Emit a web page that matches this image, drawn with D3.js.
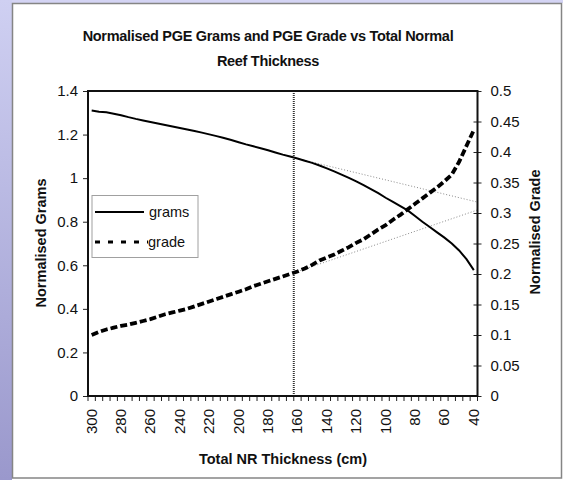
<!DOCTYPE html>
<html><head><meta charset="utf-8">
<script src="https://cdn.jsdelivr.net/npm/d3@7"></script>
<style>
html,body{margin:0;padding:0;background:#fff;}
svg{display:block;font-family:"Liberation Sans",Arial,sans-serif;}
</style></head>
<body>
<svg id="c" width="563" height="480"></svg>
<script>
// ---- data ----
const thickness = [300,295,290,285,280,275,270,265,260,255,250,245,240,235,230,225,220,215,210,205,200,195,190,185,180,175,170,165,160,155,150,145,140,135,130,125,120,115,110,105,100,95,90,85,80,75,70,65,60,55,50,45,40];
const grams = [1.310,1.305,1.302,1.296,1.289,1.280,1.272,1.265,1.258,1.251,1.244,1.237,1.230,1.223,1.216,1.209,1.201,1.193,1.184,1.175,1.165,1.155,1.146,1.137,1.128,1.118,1.108,1.099,1.090,1.080,1.070,1.058,1.045,1.031,1.016,1.001,0.985,0.968,0.950,0.931,0.910,0.891,0.872,0.852,0.826,0.800,0.776,0.751,0.727,0.700,0.668,0.628,0.578];
const grade = [0.100,0.105,0.109,0.112,0.115,0.117,0.120,0.123,0.126,0.130,0.134,0.137,0.140,0.143,0.147,0.151,0.155,0.159,0.163,0.167,0.171,0.175,0.180,0.184,0.188,0.192,0.196,0.200,0.204,0.209,0.215,0.222,0.227,0.232,0.238,0.244,0.251,0.257,0.265,0.273,0.280,0.289,0.297,0.306,0.315,0.324,0.333,0.342,0.352,0.363,0.384,0.410,0.436];
const xTickLabels = ["300","280","260","240","220","200","180","160","140","120","100","80","60","40"];
const leftTicks = [0,0.2,0.4,0.6,0.8,1,1.2,1.4];
const rightTicks = [0,0.05,0.1,0.15,0.2,0.25,0.3,0.35,0.4,0.45,0.5];
const markerAt = "160";           // vertical dotted marker
const gramsTrendEnd = 0.89;       // grams value where upper dotted line meets right axis
const gradeTrendEnd = 0.305;      // grade value where lower dotted line meets right axis
const titleLines = ["Normalised PGE Grams and PGE Grade vs Total Normal","Reef Thickness"];

// ---- layout ----
const svg = d3.select("#c");
const M = {l:88, r:477.5, t:91, b:396};
const FS = 15, TFS = 14.5;

// background pieces
const defs = svg.append("defs");
const lg = defs.append("linearGradient").attr("id","side").attr("x1",0).attr("y1",0).attr("x2",0).attr("y2",1);
lg.append("stop").attr("offset","0%").attr("stop-color","#cfd0f2");
lg.append("stop").attr("offset","100%").attr("stop-color","#9a98cc");
svg.append("rect").attr("x",0).attr("y",0).attr("width",563).attr("height",480).attr("fill","#fff");
svg.append("rect").attr("x",0).attr("y",0).attr("width",563).attr("height",3).attr("fill","#d4d4f4");
svg.append("rect").attr("x",0).attr("y",0).attr("width",12).attr("height",480).attr("fill","url(#side)");
svg.append("rect").attr("x",12.5).attr("y",3.5).attr("width",549).attr("height",474.5)
  .attr("fill","#fff").attr("stroke","#858585").attr("stroke-width",1.5);

const cats = thickness.map(String);
const x = d3.scaleBand().domain(cats).range([M.l, M.r]).padding(0);
const xc = d => x(d) + x.bandwidth()/2;
const yL = d3.scaleLinear().domain([0,1.4]).range([M.b, M.t]);
const yR = d3.scaleLinear().domain([0,0.5]).range([M.b, M.t]);

// title
svg.append("g").selectAll("text").data(titleLines).join("text")
  .attr("x",268).attr("y",(d,i)=>41+i*25).attr("text-anchor","middle")
  .attr("font-size",TFS).attr("font-weight","bold").attr("fill","#111")
  .attr("letter-spacing",-0.3).text(d=>d);

// plot area
svg.append("rect").attr("x",M.l).attr("y",M.t).attr("width",M.r-M.l).attr("height",M.b-M.t).attr("fill","#fff");

// left axis
const axL = d3.axisLeft(yL).tickValues(leftTicks).tickSize(5).tickPadding(5).tickFormat(d=>String(d));
const gL = svg.append("g").attr("transform",`translate(${M.l},0)`).call(axL);
// right axis (cross ticks)
const axR = d3.axisRight(yR).tickValues(rightTicks).tickSize(4).tickPadding(9).tickFormat(d=>String(d));
const gR = svg.append("g").attr("transform",`translate(${M.r},0)`).call(axR);
gR.selectAll(".tick line").attr("x1",-4);
// bottom axis: ticks at category boundaries
const bounds = cats.map(c=>x(c)).concat([M.r]);
const gB = svg.append("g");
gB.selectAll("line").data(bounds).join("line")
  .attr("x1",d=>d).attr("x2",d=>d).attr("y1",M.b).attr("y2",M.b+5).attr("stroke","#222").attr("stroke-width",1);
gB.selectAll("text").data(xTickLabels).join("text")
  .attr("transform",d=>`translate(${xc(d)+5},${M.b+13}) rotate(-90)`)
  .attr("text-anchor","end").attr("font-size",FS).attr("fill","#111").text(d=>d);

[gL,gR].forEach(g=>{
  g.select(".domain").remove();
  g.selectAll(".tick line").attr("stroke","#222");
  g.selectAll(".tick text").attr("font-size",FS).attr("fill","#111").attr("font-family","Liberation Sans, Arial, sans-serif");
});

// dotted marker line
svg.append("line").attr("x1",x(markerAt)).attr("x2",x(markerAt)).attr("y1",M.t).attr("y2",M.b)
  .attr("stroke","#333").attr("stroke-width",2).attr("stroke-dasharray","1,1");

// faint dotted guide lines
const i160 = cats.indexOf(markerAt);
svg.append("line").attr("x1",xc(markerAt)).attr("y1",yL(grams[i160])).attr("x2",M.r).attr("y2",yL(gramsTrendEnd))
  .attr("stroke","#8a8a8a").attr("stroke-width",1).attr("stroke-dasharray","1,2");
svg.append("line").attr("x1",xc(markerAt)).attr("y1",yR(grade[i160])).attr("x2",M.r).attr("y2",yR(gradeTrendEnd))
  .attr("stroke","#8a8a8a").attr("stroke-width",1).attr("stroke-dasharray","1,2");

// series
const lineG = d3.line().x((d,i)=>xc(cats[i])).y(d=>yL(d));
const lineR = d3.line().x((d,i)=>xc(cats[i])).y(d=>yR(d));
svg.append("path").datum(grade).attr("d",lineR).attr("fill","none").attr("stroke","#000")
  .attr("stroke-width",3.8).attr("stroke-dasharray","7,3");
svg.append("path").datum(grams).attr("d",lineG).attr("fill","none").attr("stroke","#000")
  .attr("stroke-width",2);

// plot border
svg.append("rect").attr("x",M.l).attr("y",M.t).attr("width",M.r-M.l).attr("height",M.b-M.t)
  .attr("fill","none").attr("stroke","#111").attr("stroke-width",2);

// legend
const lgd = svg.append("g");
lgd.append("rect").attr("x",92).attr("y",195.5).attr("width",106).attr("height",62)
  .attr("fill","#fff").attr("stroke","#a0a0a0").attr("stroke-width",1);
lgd.append("line").attr("x1",95).attr("x2",144).attr("y1",212).attr("y2",212).attr("stroke","#000").attr("stroke-width",2);
lgd.append("text").attr("x",149).attr("y",217).attr("font-size",14.5).attr("fill","#111").text("grams");
lgd.append("line").attr("x1",95).attr("x2",148).attr("y1",242).attr("y2",242).attr("stroke","#000").attr("stroke-width",3)
  .attr("stroke-dasharray","5,8");
lgd.append("text").attr("x",148).attr("y",247).attr("font-size",14.5).attr("fill","#111").text("grade");

// axis titles
svg.append("text").attr("x",283).attr("y",464).attr("text-anchor","middle").attr("font-size",TFS)
  .attr("font-weight","bold").attr("fill","#111").text("Total NR Thickness (cm)");
svg.append("text").attr("transform","translate(46,243) rotate(-90)").attr("text-anchor","middle")
  .attr("font-size",TFS).attr("font-weight","bold").attr("fill","#111").text("Normalised Grams");
svg.append("text").attr("transform","translate(540,232) rotate(-90)").attr("text-anchor","middle")
  .attr("font-size",TFS).attr("font-weight","bold").attr("fill","#111").text("Normalised Grade");
</script>
</body></html>
